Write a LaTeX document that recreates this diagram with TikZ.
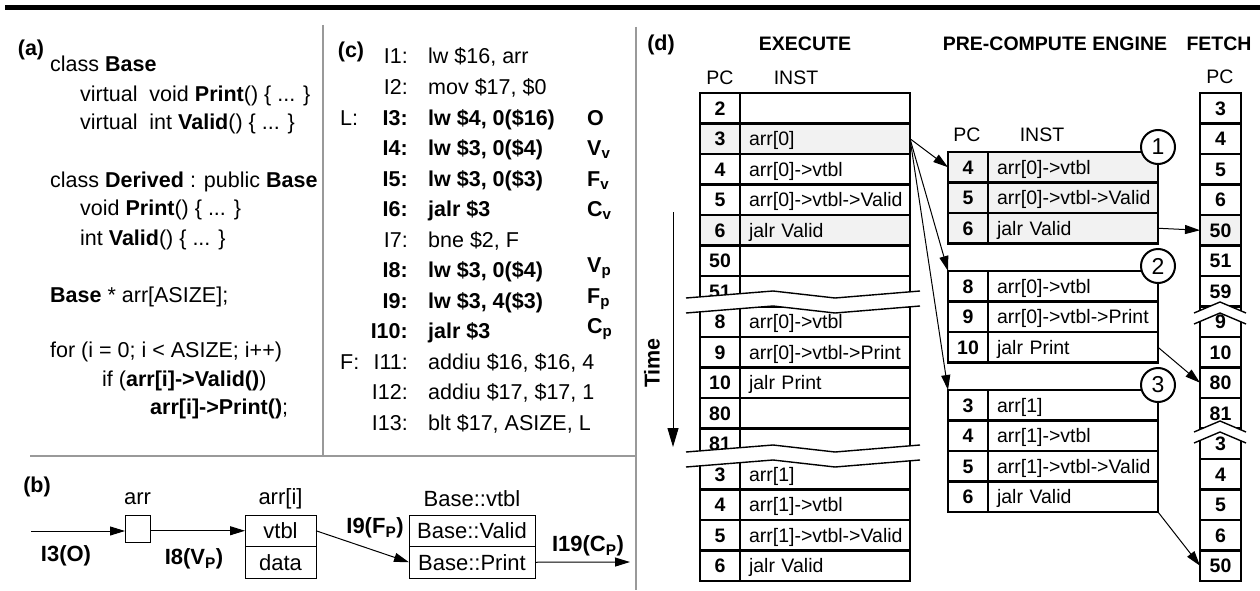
\documentclass[tikz,border=0pt]{standalone}
\usepackage{fontspec}
\setmainfont{Liberation Sans}
\usetikzlibrary{arrows.meta,positioning}

\definecolor{rowgray}{gray}{0.95}
\definecolor{sepgray}{gray}{0.6}
\newcommand{\codefont}{\fontsize{21.5}{26}\selectfont}
\newcommand{\cellfont}{\fontsize{19.5}{23}\selectfont}
\newcommand{\figfont}{\fontsize{22}{26}\selectfont}

\begin{document}
\begin{tikzpicture}[x=1pt,y=-1pt,
  code/.style={font=\codefont, inner sep=0pt, anchor=base west},
  lab/.style={font=\codefont\bfseries, inner sep=0pt},
  head/.style={font=\cellfont\bfseries, inner sep=0pt},
  colhead/.style={font=\cellfont, inner sep=0pt},
  pccell/.style={draw, line width=2.8pt, minimum width=40pt, minimum height=30.5pt,
    inner sep=0pt, outer sep=0pt, anchor=north west, text height=14pt, text depth=0pt,
    font=\cellfont\bfseries},
  inscell/.style={draw, line width=2.8pt, text width=152pt, inner xsep=9pt, inner ysep=0pt,
    minimum height=30.5pt, outer sep=0pt, anchor=north west, align=left,
    text height=14pt, text depth=0pt, font=\cellfont},
  circnum/.style={circle, draw, line width=2pt, fill=white, minimum size=34pt,
    inner sep=0pt, font=\fontsize{23}{26}\selectfont},
  bcell/.style={draw, line width=1pt, minimum height=31.5pt, inner sep=0pt, outer sep=0pt,
    font=\figfont},
  arr/.style={-{Triangle[length=15pt,width=9pt]}, line width=1pt},
  sep/.style={sepgray, line width=2pt}]
  \useasboundingbox (0,0) rectangle (1260,591);
  \draw[line width=5pt] (5,7.5) -- (1260,7.5);
  \draw[sep] (323,25) -- (323,456);
  \draw[sep] (30,456) -- (636,456);
  \draw[sep] (636,27) -- (636,590);

  % (a) source
  \node[lab] (la) at (31,50) {(a)};
  \node[code] (a1) at (50,72) {class \textbf{Base}};
  \node[code] (a2) at (80,102) {virtual\ \ void \textbf{Print}() \{ ... \}};
  \node[code] (a3) at (80,130) {virtual\ \ int \textbf{Valid}() \{ ... \}};
  \node[code] (a4) at (50,187) {class \textbf{Derived} : public \textbf{Base}};
  \node[code] (a5) at (80,215) {void \textbf{Print}() \{ ... \}};
  \node[code] (a6) at (80,245) {int \textbf{Valid}() \{ ... \}};
  \node[code] (a7) at (50,302) {\textbf{Base} * arr[ASIZE];};
  \node[code] (a8) at (50,357) {for (i = 0; i < ASIZE; i++)};
  \node[code] (a9) at (102,386) {if (\textbf{arr[i]->Valid()})};
  \node[code] (a10) at (150,414) {\textbf{arr[i]->Print()};};

  % (c) assembly
  \node[lab] (lc) at (351,52) {(c)};
  \foreach \i/\lab/\ins/\wt in {0/I1:/{lw \$16, arr}/\mdseries,
      1/I2:/{mov \$17, \$0}/\mdseries, 2/I3:/{lw \$4, 0(\$16)}/\bfseries,
      3/I4:/{lw \$3, 0(\$4)}/\bfseries, 4/I5:/{lw \$3, 0(\$3)}/\bfseries,
      5/I6:/{jalr \$3}/\bfseries, 6/I7:/{bne \$2, F}/\mdseries,
      7/I8:/{lw \$3, 0(\$4)}/\bfseries, 8/I9:/{lw \$3, 4(\$3)}/\bfseries,
      9/I10:/{jalr \$3}/\bfseries, 10/I11:/{addiu \$16, \$16, 4}/\mdseries,
      11/I12:/{addiu \$17, \$17, 1}/\mdseries, 12/I13:/{blt \$17, ASIZE, L}/\mdseries}
  {
    \node[code, anchor=base east] (cl-\i) at (408,{64+30.5*\i}) {\wt\lab};
    \node[code] (ci-\i) at (428,{64+30.5*\i}) {\wt\ins};
  }
  \node[code] (cL) at (340,125) {L:};
  \node[code] (cF) at (340,369) {F:};
  \node[code, font=\codefont\bfseries] (tO) at (587,125) {O};
  \node[code, font=\codefont\bfseries] (tVv) at (587,155.5) {V\textsubscript{v}};
  \node[code, font=\codefont\bfseries] (tFv) at (587,186) {F\textsubscript{v}};
  \node[code, font=\codefont\bfseries] (tCv) at (587,216.5) {C\textsubscript{v}};
  \node[code, font=\codefont\bfseries] (tVp) at (587,272.5) {V\textsubscript{p}};
  \node[code, font=\codefont\bfseries] (tFp) at (587,303) {F\textsubscript{p}};
  \node[code, font=\codefont\bfseries] (tCp) at (587,333.5) {C\textsubscript{p}};

  % (b) object layout
  \node[lab] (lb) at (37,487) {(b)};
  \node[bcell, minimum width=25pt, minimum height=27pt, anchor=north] (arrbox) at (137.5,515) {};
  \node[bcell, minimum width=71pt, anchor=north] (vtbl) at (280.5,515) {vtbl};
  \node[bcell, minimum width=71pt, anchor=north] (data) at (vtbl.south) {data};
  \node[bcell, minimum width=126pt, anchor=north] (bvalid) at (472,515) {Base::Valid};
  \node[bcell, minimum width=126pt, anchor=north] (bprint) at (bvalid.south) {Base::Print};
  \node[font=\figfont, inner sep=0pt] (arrlab) at (137.5,499) {arr};
  \node[font=\figfont, inner sep=0pt] (arrilab) at (280.5,499) {arr[i]};
  \node[font=\figfont, inner sep=0pt] (vtbllab) at (472,499) {Base::vtbl};
  \coordinate (bin) at (31,531);
  \coordinate (bout) at (630,562);
  \draw[arr] (bin) -- (bin -| arrbox.west);
  \draw[arr] (arrbox.east |- vtbl.west) -- (vtbl.west);
  \draw[arr] (vtbl.east) -- (bprint.west);
  \draw[arr] (bprint.east) -- (bout);
  \node[font=\figfont\bfseries, inner sep=0pt] (l3) at (66,556) {I3(O)};
  \node[font=\figfont\bfseries, inner sep=0pt] (l8) at (194,559) {I8(V\textsubscript{P})};
  \node[font=\figfont\bfseries, inner sep=0pt] (l9) at (375,528) {I9(F\textsubscript{P})};
  \node[font=\figfont\bfseries, inner sep=0pt] (l19) at (588,546) {I19(C\textsubscript{P})};

  % (d) timeline
  \node[lab] (ld) at (661,45) {(d)};
  \node[head] (hex) at (805,44) {EXECUTE};
  \node[head] (hpre) at (1055,44) {PRE-COMPUTE ENGINE};
  \node[head] (hfe) at (1219,44) {FETCH};
  \node[colhead] (expc) at (720,78) {PC};
  \node[colhead] (exinst) at (796,78) {INST};
  \node[colhead] (engpc) at (967,135) {PC};
  \node[colhead] (enginst) at (1042,135) {INST};
  \node[colhead] (fepc) at (1220,77) {PC};

  \foreach \k/\pc/\ins/\fc in {0/2//white, 1/3/arr[0]/rowgray, 2/4/arr[0]->vtbl/white,
      3/5/arr[0]->vtbl->Valid/white, 4/6/jalr Valid/rowgray, 5/50//white, 6/51//white,
      7/8/arr[0]->vtbl/white, 8/9/arr[0]->vtbl->Print/white, 9/10/jalr Print/white,
      10/80//white, 11/81//white, 12/3/arr[1]/white, 13/4/arr[1]->vtbl/white,
      14/5/arr[1]->vtbl->Valid/white, 15/6/jalr Valid/white}
  {
    \node[pccell, fill=\fc] (ex-pc-\k) at (700,{93+30.5*\k}) {\pc};
    \node[inscell, fill=\fc] (ex-in-\k) at (740,{93+30.5*\k}) {\mbox{\ins}};
  }
  \foreach \k/\pc/\fc in {0/3/white, 1/4/white, 2/5/white, 3/6/white, 4/50/rowgray,
      5/51/white, 6/59/white, 7/9/white, 8/10/white, 9/80/white, 10/81/white,
      11/3/white, 12/4/white, 13/5/white, 14/6/white, 15/50/white}
    \node[pccell, minimum width=41pt, fill=\fc] (fe-\k) at (1200,{93+30.5*\k}) {\pc};

  \foreach \k/\pc/\ins in {0/4/arr[0]->vtbl, 1/5/arr[0]->vtbl->Valid, 2/6/jalr Valid}
  {
    \node[pccell, fill=rowgray] (eng1-pc-\k) at (948,{152+30.5*\k}) {\pc};
    \node[inscell, fill=rowgray] (eng1-in-\k) at (988,{152+30.5*\k}) {\mbox{\ins}};
  }
  \foreach \k/\pc/\ins in {0/8/arr[0]->vtbl, 1/9/arr[0]->vtbl->Print, 2/10/jalr Print}
  {
    \node[pccell] (eng2-pc-\k) at (948,{271+30.5*\k}) {\pc};
    \node[inscell] (eng2-in-\k) at (988,{271+30.5*\k}) {\mbox{\ins}};
  }
  \foreach \k/\pc/\ins in {0/3/arr[1], 1/4/arr[1]->vtbl, 2/5/arr[1]->vtbl->Valid, 3/6/jalr Valid}
  {
    \node[pccell] (eng3-pc-\k) at (948,{390+30.5*\k}) {\pc};
    \node[inscell] (eng3-in-\k) at (988,{390+30.5*\k}) {\mbox{\ins}};
  }

  % breaks in the columns
  \foreach \y in {291,445}
  {
    \fill[white] (686,\y+7) -- (773,\y) -- (835,\y+7) -- (920,\y) -- (920,\y+15)
      -- (835,\y+22) -- (773,\y+15) -- (686,\y+22) -- cycle;
    \draw[line width=1.4pt] (686,\y+7) -- (773,\y) -- (835,\y+7) -- (920,\y);
    \draw[line width=1.4pt] (686,\y+22) -- (773,\y+15) -- (835,\y+22) -- (920,\y+15);
  }
  \foreach \y in {302,421}
  {
    \fill[white] (1194,\y+11) -- (1220,\y) -- (1246,\y+11) -- (1246,\y+22)
      -- (1220,\y+11) -- (1194,\y+22) -- cycle;
    \draw[line width=1.4pt] (1194,\y+11) -- (1220,\y) -- (1246,\y+11);
    \draw[line width=1.4pt] (1194,\y+22) -- (1220,\y+11) -- (1246,\y+22);
  }

  \coordinate (t0) at (673,212);
  \coordinate (t1) at (673,447);
  \draw[-{Triangle[length=19pt,width=11pt]}, line width=1pt] (t0) -- (t1);
  \node[head, font=\codefont\bfseries, rotate=90] (time) at (652,363) {Time};

  \draw[arr] (ex-in-1.east) -- (eng1-pc-0.west);
  \draw[arr] (ex-in-1.east) -- (eng2-pc-0.north west);
  \draw[arr] (ex-in-1.east) -- (eng3-pc-0.north west);
  \draw[arr] (eng1-in-2.east) -- (fe-4.west);
  \draw[arr] (eng2-in-2.east) -- (fe-9.west);
  \draw[arr] (eng3-in-3.south east) -- (fe-15.west);

  \node[circnum] (n1) at ([yshift=5pt]eng1-in-0.north east) {1};
  \node[circnum] (n2) at ([yshift=5pt]eng2-in-0.north east) {2};
  \node[circnum] (n3) at ([yshift=5pt]eng3-in-0.north east) {3};
\end{tikzpicture}
\end{document}
